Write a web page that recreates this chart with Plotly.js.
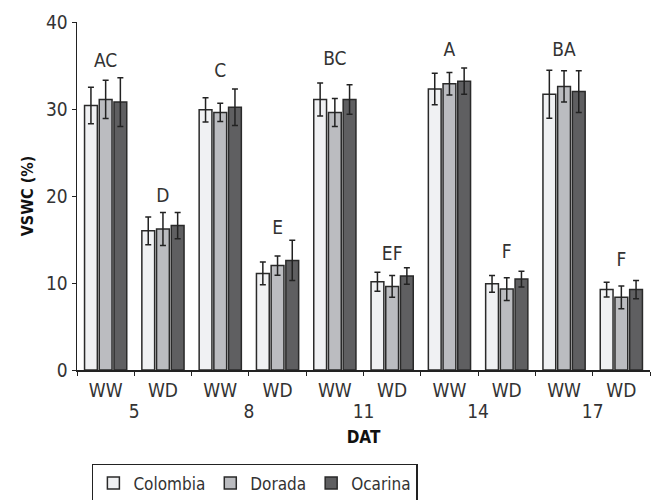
<!DOCTYPE html>
<html>
<head>
<meta charset="utf-8">
<script src="https://cdn.plot.ly/plotly-3.0.1.min.js"></script>
<style>html,body{margin:0;padding:0;background:#fff;}#chart{width:652px;height:500px;}</style>
</head>
<body>
<div id="chart"></div>
<script>
const days = ["5","5","8","8","11","11","14","14","17","17"];
const treatments = ["WW","WD","WW","WD","WW","WD","WW","WD","WW","WD"];
const colombia = [30.4, 16.0, 29.9, 11.1, 31.1, 10.15, 32.3, 9.9, 31.7, 9.25];
const colombiaErr = [2.1, 1.6, 1.4, 1.3, 1.9, 1.1, 1.8, 0.95, 2.75, 0.85];
const dorada = [31.1, 16.2, 29.6, 12.0, 29.6, 9.6, 32.9, 9.3, 32.6, 8.35];
const doradaErr = [2.2, 1.9, 1.05, 1.1, 1.6, 1.25, 1.3, 1.3, 1.8, 1.3];
const ocarina = [30.8, 16.6, 30.2, 12.6, 31.1, 10.8, 33.2, 10.45, 32.0, 9.25];
const ocarinaErr = [2.8, 1.5, 2.1, 2.3, 1.7, 0.95, 1.5, 0.9, 2.4, 1.05];
const letters = ["AC","D","C","E","BC","EF","A","F","BA","F"];
const letterY = [35.4, 19.9, 34.2, 16.2, 35.6, 13.2, 36.6, 13.4, 36.6, 12.45];
const seriesNames = ["Colombia","Dorada","Ocarina"];
const yTicks = [0, 10, 20, 30, 40];

const FONT = "'DejaVu Sans Condensed', 'Liberation Sans Narrow', 'Arial Narrow', sans-serif";
const TXT = "#333333";
const fills = ["#f0f1f3", "#bbbcc0", "#5f5f61"];
const vals = [colombia, dorada, ocarina];
const errs = [colombiaErr, doradaErr, ocarinaErr];

const traces = seriesNames.map((n, i) => ({
  type: "bar",
  name: n,
  x: [days, treatments],
  y: vals[i],
  marker: {color: fills[i], line: {color: "#2a2a2a", width: 1.5}},
  error_y: {type: "data", array: errs[i], visible: true, color: "#222", thickness: 1.5, width: 3}
}));
traces.push({
  type: "scatter",
  mode: "text",
  x: [days, treatments],
  y: letterY,
  text: letters,
  textposition: "middle center",
  textfont: {family: FONT, size: 19, color: TXT},
  showlegend: false,
  hoverinfo: "skip"
});

const layout = {
  width: 652, height: 500,
  margin: {l: 77, r: 2, t: 22, b: 130, autoexpand: false},
  paper_bgcolor: "#fff", plot_bgcolor: "#fff",
  font: {family: FONT, size: 19, color: TXT},
  barmode: "group",
  bargap: 0.23,
  bargroupgap: 0.13,
  showlegend: true,
  legend: {
    orientation: "h",
    x: 0.026, xanchor: "left",
    y: -0.27, yanchor: "top",
    bordercolor: "#222", borderwidth: 1.5,
    font: {family: FONT, size: 17, color: TXT},
    itemclick: false
  },
  xaxis: {
    type: "multicategory",
    automargin: false,
    showline: true, linecolor: "#222", linewidth: 1.5,
    ticks: "outside", ticklen: 4, tickcolor: "#222", tickwidth: 1,
    ticklabelstandoff: 3,
    showdividers: false,
    showgrid: false, zeroline: false,
    tickfont: {family: FONT, size: 19, color: TXT},
    title: {text: "<b>DAT</b>", font: {family: FONT, size: 17, color: "#111"}, standoff: 10}
  },
  yaxis: {
    range: [0, 40],
    automargin: false,
    tickvals: yTicks,
    ticktext: yTicks.map(String),
    showline: true, linecolor: "#222", linewidth: 1.5,
    ticks: "outside", ticklen: 4, tickcolor: "#222", tickwidth: 1,
    showgrid: false, zeroline: false,
    tickfont: {family: FONT, size: 19, color: TXT},
    title: {text: "<b>VSWC (%)</b>", font: {family: FONT, size: 16, color: "#111"}, standoff: 8}
  }
};

Plotly.newPlot("chart", traces, layout, {displayModeBar: false, staticPlot: true});
</script>
</body>
</html>
